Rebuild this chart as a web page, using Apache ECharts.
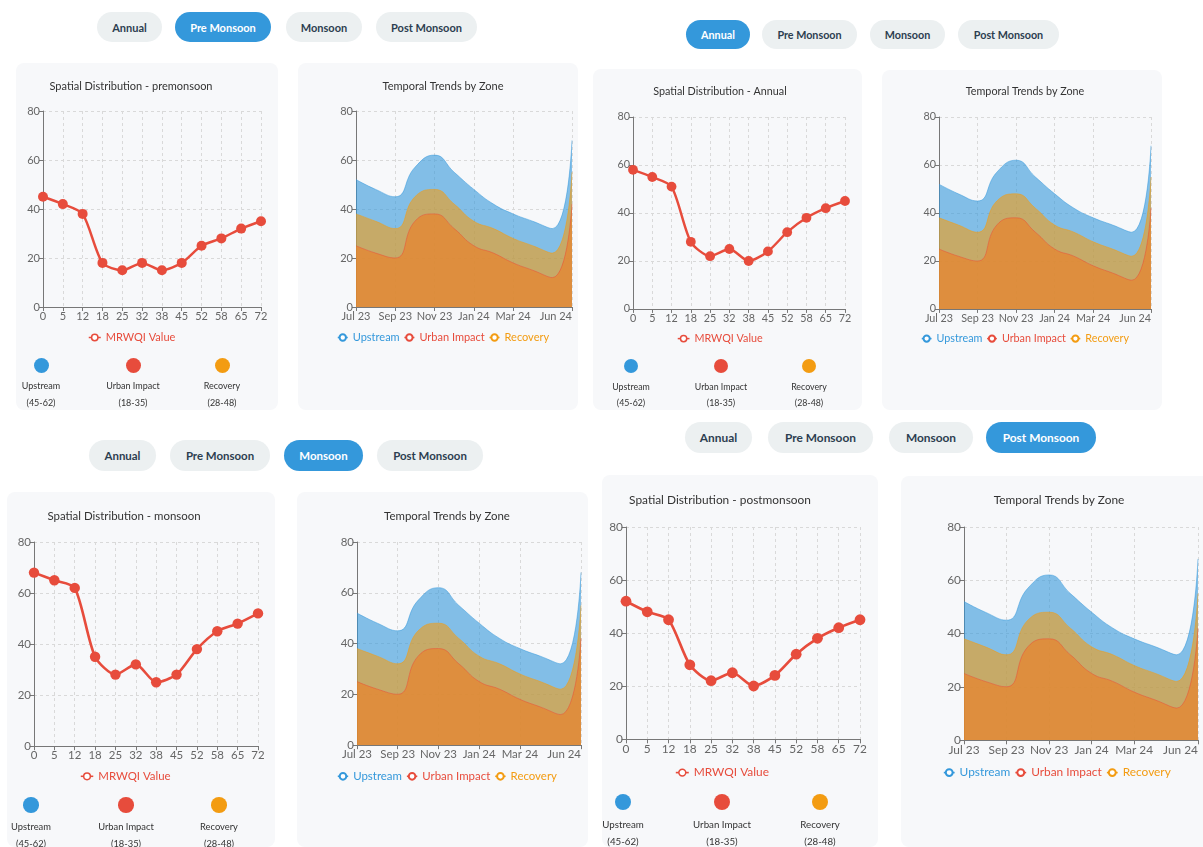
<!DOCTYPE html>
<html><head><meta charset="utf-8">
<script src="https://cdn.jsdelivr.net/npm/echarts@6/dist/echarts.min.js"></script>
<style>
html,body{margin:0;padding:0;}
body{background:#fff;width:1203px;height:847px;overflow:hidden;position:relative;font-family:Lato,'Open Sans',sans-serif;}
.btn{position:absolute;border-radius:16px;background:#ecf0f1;color:#2c3e50;font-weight:bold;display:flex;align-items:center;justify-content:center;white-space:nowrap;}
.btn.active{background:#3498db;color:#fff;}
.card{position:absolute;background:#f7f8fa;border-radius:8px;overflow:hidden;}
.chart{position:absolute;left:0;top:0;}
.dot{position:absolute;border-radius:50%;}
.lbl{position:absolute;transform:translate(-50%,-50%);color:#333;white-space:nowrap;}
</style></head><body>
<script>
// ---------- data ----------
const seasonButtons = ['Annual', 'Pre Monsoon', 'Monsoon', 'Post Monsoon'];
const distances = ['0', '5', '12', '18', '25', '32', '38', '45', '52', '58', '65', '72'];
const annualValues = [58, 55, 51, 28, 22, 25, 20, 24, 32, 38, 42, 45];
const premonsoonValues = [45, 42, 38, 18, 15, 18, 15, 18, 25, 28, 32, 35];
const monsoonValues = [68, 65, 62, 35, 28, 32, 25, 28, 38, 45, 48, 52];
const postmonsoonValues = [52, 48, 45, 28, 22, 25, 20, 24, 32, 38, 42, 45];
const months = ['Jul 23', 'Aug 23', 'Sep 23', 'Oct 23', 'Nov 23', 'Dec 23', 'Jan 24', 'Feb 24', 'Mar 24', 'Apr 24', 'May 24', 'Jun 24'];
const upstream = [52, 48, 45, 57, 62, 55, 48, 42, 38, 35, 32, 68];
const urbanImpact = [25, 22, 20, 35, 38, 32, 25, 22, 18, 15, 12, 42];
const recovery = [38, 35, 32, 45, 48, 42, 35, 32, 28, 25, 22, 55];
const zoneNames = ['Upstream', 'Urban Impact', 'Recovery'];
const zoneRanges = ['(45-62)', '(18-35)', '(28-48)'];
const shownMonthLabels = ['Jul 23', 'Sep 23', 'Nov 23', 'Jan 24', 'Mar 24', 'Jun 24'];
const lineSeriesName = 'MRWQI Value';

// ---------- styles ----------
const zoneColors = ['#3498db', '#e74c3c', '#f39c12'];
const FONT = "Lato,'Open Sans',sans-serif";
const FS = 11;

// ---------- layout of the four screenshots ----------
const quads = [
  {s:1.0, active:1, season:'premonsoon', values:premonsoonValues,
   btnY:12, btnH:30, btnX:[97,175,286,376], btnW:[65,96,76,101],
   lc:{x:16,y:63,w:262,h:347}, rc:{x:298,y:63,w:280,h:347},
   lt:{cx:131,cy:86}, lg:{l:43,r:261,t:111,b:307}, ll:{x:88,y:337},
   dots:{y:365, xs:[41,133,222], l1:385, l2:402},
   at:{cx:443,cy:86}, ag:{l:356,r:572,t:111,b:307}, al:{x:337,y:337}},
  {s:0.98, active:0, season:'Annual', values:annualValues,
   btnY:20, btnH:29, btnX:[686,762,870,958], btnW:[64,95,75,101],
   lc:{x:593,y:69,w:269,h:341}, rc:{x:882,y:70,w:280,h:340},
   lt:{cx:720,cy:92}, lg:{l:633,r:845,t:117,b:309}, ll:{x:677,y:338},
   dots:{y:366, xs:[631,721,809], l1:386, l2:402},
   at:{cx:1025,cy:92}, ag:{l:939,r:1151,t:117,b:309}, al:{x:921,y:338}},
  {s:1.04, active:2, season:'monsoon', values:monsoonValues,
   btnY:440, btnH:31, btnX:[89,170,284,377], btnW:[67,100,79,106],
   lc:{x:7,y:492,w:268,h:355}, rc:{x:297,y:492,w:291,h:355},
   lt:{cx:124,cy:516}, lg:{l:34,r:258,t:542,b:746}, ll:{x:80,y:776},
   dots:{y:805, xs:[31,126,219], l1:826, l2:843},
   at:{cx:447,cy:516}, ag:{l:357,r:581,t:542,b:745}, al:{x:337,y:776}},
  {s:1.08, active:3, season:'postmonsoon', values:postmonsoonValues,
   btnY:422, btnH:31, btnX:[685,768,889,986], btnW:[67,105,84,110],
   lc:{x:602,y:475,w:276,h:372}, rc:{x:901,y:476,w:310,h:371},
   lt:{cx:720,cy:500}, lg:{l:626,r:860,t:527,b:739}, ll:{x:675,y:772},
   dots:{y:802, xs:[623,722,820], l1:824, l2:841},
   at:{cx:1059,cy:500}, ag:{l:964,r:1198,t:527,b:740}, al:{x:943,y:772}}
];

function el(cls, css, parent) {
  const d = document.createElement('div');
  d.className = cls;
  Object.assign(d.style, css);
  (parent || document.body).appendChild(d);
  return d;
}

function axisCommon(s) {
  return {
    axisLine: {show: true, lineStyle: {color: '#777', width: 1}},
    axisTick: {show: true, length: 4 * s, lineStyle: {color: '#777'}},
    splitLine: {show: true, lineStyle: {type: [3, 3], color: '#d9d9d9', width: 1}}
  };
}

function baseOption(q, card, tpos, grid, leg, titleText) {
  const s = q.s;
  const ac = axisCommon(s);
  return {
    animation: false,
    textStyle: {fontFamily: FONT},
    title: {text: titleText, left: tpos.cx - card.x, top: tpos.cy - card.y, textAlign: 'center',
      textVerticalAlign: 'middle', padding: 0,
      textStyle: {fontSize: FS * s, fontWeight: 'normal', color: '#333', fontFamily: FONT}},
    grid: {left: grid.l - card.x, top: grid.t - card.y, width: grid.r - grid.l, height: grid.b - grid.t,
      containLabel: false, outerBoundsMode: 'none'},
    legend: {left: leg.x - card.x, top: leg.y - card.y - 5 * s, width: 500, padding: 0, itemGap: 4 * s,
      itemWidth: 10 * s, itemHeight: 8 * s,
      lineStyle: {width: 1.5 * s, opacity: 1},
      textStyle: {fontSize: FS * s, fontFamily: FONT}},
    yAxis: Object.assign({type: 'value', min: 0, max: 80, interval: 20,
      axisLabel: {color: '#666', fontSize: FS * s, margin: 3, fontFamily: FONT}}, ac),
    xAxis: Object.assign({type: 'category', boundaryGap: false}, ac)
  };
}

quads.forEach(q => {
  const s = q.s;
  // buttons
  seasonButtons.forEach((b, i) => {
    const d = el('btn' + (i === q.active ? ' active' : ''), {
      left: q.btnX[i] + 'px', top: q.btnY + 'px', width: q.btnW[i] + 'px', height: q.btnH + 'px',
      borderRadius: (q.btnH / 2) + 'px', fontSize: (FS * s) + 'px'});
    d.textContent = b;
  });
  // spatial card
  const lc = q.lc;
  const lcard = el('card', {left: lc.x + 'px', top: lc.y + 'px', width: lc.w + 'px', height: lc.h + 'px'});
  const lchartDiv = el('chart', {width: lc.w + 'px', height: lc.h + 'px'}, lcard);
  const lopt = baseOption(q, lc, q.lt, q.lg, q.ll, 'Spatial Distribution - ' + q.season);
  lopt.xAxis.data = distances;
  lopt.xAxis.axisTick.alignWithLabel = true;
  lopt.xAxis.axisLabel = {interval: 0, color: '#666', fontSize: FS * s, margin: 4, fontFamily: FONT};
  lopt.legend.data = [{name: lineSeriesName, textStyle: {color: zoneColors[1]},
    itemStyle: {color: '#fff', borderColor: zoneColors[1], borderWidth: 1.5}}];
  lopt.legend.itemWidth = 12 * s;
  lopt.series = [{name: lineSeriesName, type: 'line', data: q.values, smooth: 0.25,
    symbol: 'circle', symbolSize: 10 * s, color: zoneColors[1],
    lineStyle: {width: 2.5 * s, color: zoneColors[1]}, itemStyle: {color: zoneColors[1]}}];
  echarts.init(lchartDiv, null, {renderer: 'canvas'}).setOption(lopt);
  // zone dots
  zoneNames.forEach((z, i) => {
    const r = 7.5 * s;
    el('dot', {left: (q.dots.xs[i] - lc.x - r) + 'px', top: (q.dots.y - lc.y - r) + 'px',
      width: 2 * r + 'px', height: 2 * r + 'px', background: zoneColors[i]}, lcard);
    const a = el('lbl', {left: (q.dots.xs[i] - lc.x) + 'px', top: (q.dots.l1 - lc.y) + 'px', fontSize: (9 * s) + 'px'}, lcard);
    a.textContent = z;
    const b = el('lbl', {left: (q.dots.xs[i] - lc.x) + 'px', top: (q.dots.l2 - lc.y) + 'px', fontSize: (9 * s) + 'px'}, lcard);
    b.textContent = zoneRanges[i];
  });
  // temporal card
  const rc = q.rc;
  const rcard = el('card', {left: rc.x + 'px', top: rc.y + 'px', width: rc.w + 'px', height: rc.h + 'px'});
  const rchartDiv = el('chart', {width: rc.w + 'px', height: rc.h + 'px'}, rcard);
  const ropt = baseOption(q, rc, q.at, q.ag, q.al, 'Temporal Trends by Zone');
  const shown = (idx) => shownMonthLabels.indexOf(months[idx]) >= 0;
  ropt.xAxis.data = months;
  ropt.xAxis.axisTick.interval = shown;
  ropt.xAxis.splitLine.interval = shown;
  ropt.xAxis.axisLabel = {interval: shown, color: '#666', fontSize: FS * s, margin: 4, fontFamily: FONT,
    showMaxLabel: true, alignMaxLabel: 'right'};
  const zoneData = [upstream, urbanImpact, recovery];
  ropt.series = zoneNames.map((z, i) => ({
    name: z, type: 'line', data: zoneData[i], smooth: true, showSymbol: false,
    symbol: 'emptyCircle', color: zoneColors[i],
    lineStyle: {width: 1, color: zoneColors[i], opacity: 0.5},
    itemStyle: {color: zoneColors[i]},
    areaStyle: {color: zoneColors[i], opacity: 0.6}
  }));
  ropt.legend.data = zoneNames.map((z, i) => ({name: z, textStyle: {color: zoneColors[i]}}));
  echarts.init(rchartDiv, null, {renderer: 'canvas'}).setOption(ropt);
});
</script>
</body></html>
